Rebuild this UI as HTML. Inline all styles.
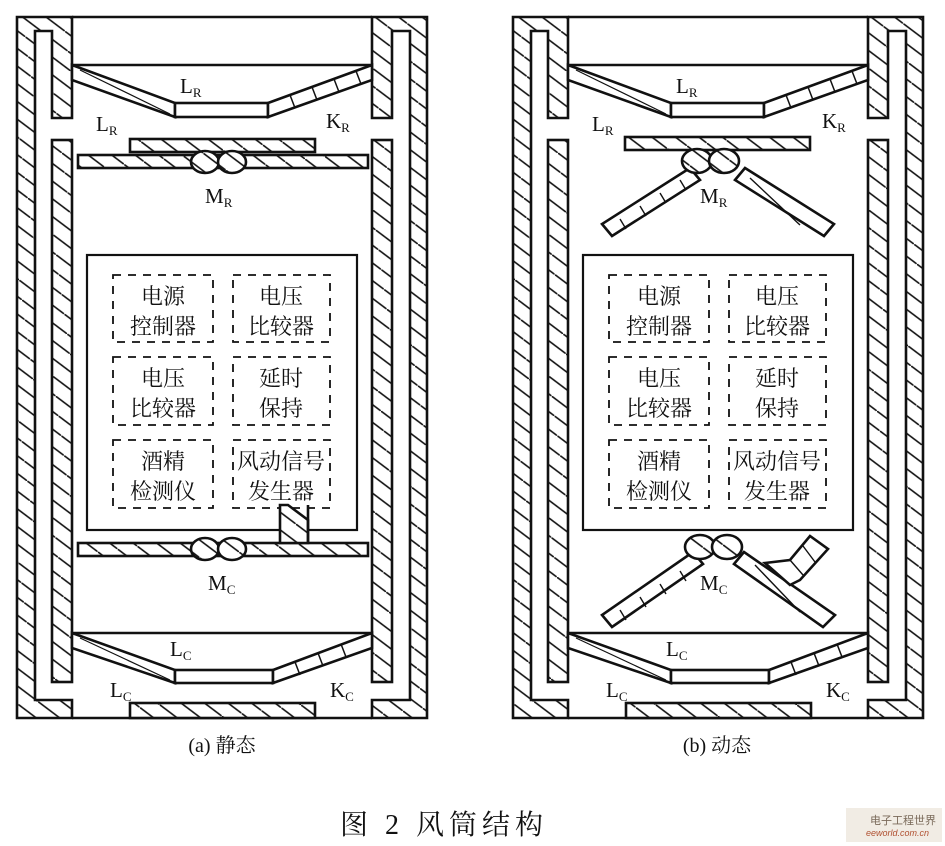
<!DOCTYPE html>
<html><head><meta charset="utf-8"><style>
html,body{margin:0;padding:0;background:#fff;}
svg{display:block;}
.l{font-family:"Liberation Serif",serif;font-size:21px;fill:#111;}
.s{font-size:13px;}
.cn{font-family:"Liberation Serif","Noto Serif CJK SC",serif;font-size:22px;fill:#111;}
</style></head><body>
<svg width="945" height="846" viewBox="0 0 945 846" xmlns="http://www.w3.org/2000/svg">
<defs>
<pattern id="h" patternUnits="userSpaceOnUse" width="20" height="20" patternTransform="rotate(-8)">
<rect width="20" height="20" fill="#fff"/>
<line x1="0" y1="0" x2="20" y2="20" stroke="#111" stroke-width="1.6"/>
</pattern>
<g id="frame" stroke="#111" stroke-width="2.6" fill="url(#h)" stroke-linejoin="miter">
<polygon points="17,17 72,17 72,118 52,118 52,31 35,31 35,700 72,700 72,718 17,718"/>
<polygon points="427,17 372,17 372,118 392,118 392,31 410,31 410,700 372,700 372,718 427,718"/>
<line x1="72" y1="17" x2="372" y2="17"/>
<line x1="72" y1="718" x2="372" y2="718"/>
<rect x="52" y="140" width="20" height="542"/>
<rect x="372" y="140" width="20" height="542"/>
<rect x="130" y="703" width="185" height="15"/>
<line x1="72" y1="65" x2="372" y2="65"/>
<polygon points="72,65 175,103 175,117 72,80" fill="#fff"/>
<line x1="80" y1="70" x2="170" y2="114" stroke-width="1.2"/>
<rect x="175" y="103" width="93" height="14" fill="#fff"/>
<polygon points="268,103 372,65 372,80 268,117" fill="#fff"/>
<g stroke-width="1.5"><line x1="290" y1="95" x2="295" y2="108"/><line x1="312" y1="87" x2="317" y2="100"/><line x1="334" y1="79" x2="339" y2="92"/><line x1="356" y1="71" x2="361" y2="84"/></g>
<line x1="72" y1="633" x2="372" y2="633"/>
<polygon points="72,633 175,670 175,683 72,648" fill="#fff"/>
<line x1="80" y1="638" x2="170" y2="680" stroke-width="1.2"/>
<rect x="175" y="670" width="98" height="13" fill="#fff"/>
<polygon points="273,670 372,633 372,648 273,683" fill="#fff"/>
<g stroke-width="1.5"><line x1="295" y1="662" x2="300" y2="675"/><line x1="318" y1="653" x2="323" y2="666"/><line x1="341" y1="644" x2="346" y2="657"/></g>
<rect x="87" y="255" width="270" height="275" fill="#fff" stroke-width="2.2"/>
<g fill="none" stroke-width="1.8" stroke-dasharray="8,7">
<rect x="113" y="275" width="100" height="67"/><rect x="233" y="275" width="97" height="67"/>
<rect x="113" y="357" width="100" height="68"/><rect x="233" y="357" width="97" height="68"/>
<rect x="113" y="440" width="100" height="68"/><rect x="233" y="440" width="97" height="68"/>
</g>
</g>
</defs>

<use href="#frame"/>
<use href="#frame" x="496"/>

<g stroke="#111" stroke-width="2.6" fill="url(#h)">
<rect x="130" y="139" width="185" height="13"/>
<rect x="78" y="155" width="290" height="13"/>
<ellipse cx="205" cy="162" rx="14" ry="11"/>
<ellipse cx="232" cy="162" rx="14" ry="11"/>
<rect x="78" y="543" width="290" height="13"/>
<ellipse cx="205" cy="549" rx="14" ry="11"/>
<ellipse cx="232" cy="549" rx="14" ry="11"/>
<polygon points="280,505 288,505 308,520 308,543 280,543"/>
<line x1="308" y1="505" x2="308" y2="543"/>
</g>

<g stroke="#111" stroke-width="2.6" fill="#fff">
<rect x="625" y="137" width="185" height="13" fill="url(#h)"/>
<polygon points="690,168 700,180 612,236 602,224"/>
<polygon points="745,168 735,180 824,236 834,224"/>
<ellipse cx="697" cy="161" rx="15" ry="12" fill="url(#h)"/>
<ellipse cx="724" cy="161" rx="15" ry="12" fill="url(#h)"/>
<polygon points="693,552 703,564 612,627 602,615"/>
<polygon points="744,552 734,564 823,627 835,615"/>
<polygon points="765,563 790,560 810,536 828,549 800,580 790,585"/>
<ellipse cx="700" cy="547" rx="15" ry="12" fill="url(#h)"/>
<ellipse cx="727" cy="547" rx="15" ry="12" fill="url(#h)"/>
</g>
<g stroke="#111" stroke-width="1.4">
<line x1="620" y1="219" x2="626" y2="229"/><line x1="640" y1="206" x2="646" y2="216"/><line x1="660" y1="193" x2="666" y2="203"/><line x1="680" y1="180" x2="686" y2="190"/>
<line x1="750" y1="178" x2="800" y2="225"/>
<line x1="620" y1="610" x2="626" y2="620"/><line x1="640" y1="597" x2="646" y2="607"/><line x1="660" y1="584" x2="666" y2="594"/><line x1="680" y1="571" x2="686" y2="581"/>
<line x1="755" y1="565" x2="800" y2="612"/>
<line x1="790" y1="560" x2="803" y2="575"/><line x1="803" y1="546" x2="815" y2="562"/>
</g>

<g class="l">
<text x="180" y="93">L<tspan class="s" dy="4">R</tspan></text>
<text x="96" y="131">L<tspan class="s" dy="4">R</tspan></text>
<text x="326" y="128">K<tspan class="s" dy="4">R</tspan></text>
<text x="205" y="203">M<tspan class="s" dy="4">R</tspan></text>
<text x="208" y="590">M<tspan class="s" dy="4">C</tspan></text>
<text x="170" y="656">L<tspan class="s" dy="4">C</tspan></text>
<text x="110" y="697">L<tspan class="s" dy="4">C</tspan></text>
<text x="330" y="697">K<tspan class="s" dy="4">C</tspan></text>

<text x="676" y="93">L<tspan class="s" dy="4">R</tspan></text>
<text x="592" y="131">L<tspan class="s" dy="4">R</tspan></text>
<text x="822" y="128">K<tspan class="s" dy="4">R</tspan></text>
<text x="700" y="203">M<tspan class="s" dy="4">R</tspan></text>
<text x="700" y="590">M<tspan class="s" dy="4">C</tspan></text>
<text x="666" y="656">L<tspan class="s" dy="4">C</tspan></text>
<text x="606" y="697">L<tspan class="s" dy="4">C</tspan></text>
<text x="826" y="697">K<tspan class="s" dy="4">C</tspan></text>
</g>

<g class="cn" text-anchor="middle">
<text x="163" y="304">电源</text><text x="163" y="334">控制器</text>
<text x="281" y="304">电压</text><text x="281" y="334">比较器</text>
<text x="163" y="386">电压</text><text x="163" y="416">比较器</text>
<text x="281" y="386">延时</text><text x="281" y="416">保持</text>
<text x="163" y="469">酒精</text><text x="163" y="499">检测仪</text>
<text x="281" y="469">风动信号</text><text x="281" y="499">发生器</text>

<text x="659" y="304">电源</text><text x="659" y="334">控制器</text>
<text x="777" y="304">电压</text><text x="777" y="334">比较器</text>
<text x="659" y="386">电压</text><text x="659" y="416">比较器</text>
<text x="777" y="386">延时</text><text x="777" y="416">保持</text>
<text x="659" y="469">酒精</text><text x="659" y="499">检测仪</text>
<text x="777" y="469">风动信号</text><text x="777" y="499">发生器</text>

<text x="222" y="752" style="font-size:20px">(a) 静态</text>
<text x="717" y="752" style="font-size:20px">(b) 动态</text>
</g>
<text x="340" y="834" style="font-family:'Liberation Serif','Noto Serif CJK SC',serif;font-size:28px;fill:#111;letter-spacing:5px">图 2  风筒结构</text>
<rect x="846" y="808" width="96" height="34" fill="#f1ece4"/>
<text x="870" y="824" style="font-family:'Noto Sans CJK SC',sans-serif;font-size:11px;fill:#7a6a5a">电子工程世界</text>
<text x="866" y="836" style="font-family:'Liberation Sans',sans-serif;font-size:9px;fill:#b05030;font-style:italic">eeworld.com.cn</text>
</svg>
</body></html>
